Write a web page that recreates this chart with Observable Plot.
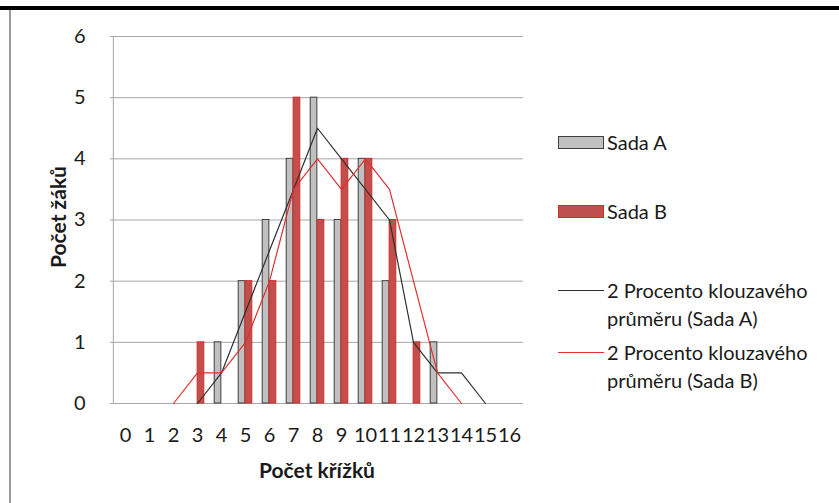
<!DOCTYPE html>
<html>
<head>
<meta charset="utf-8">
<script src="https://cdn.jsdelivr.net/npm/d3@7"></script>
<script src="https://cdn.jsdelivr.net/npm/@observablehq/plot@0.6"></script>
<style>
  html, body { margin: 0; padding: 0; background: #fff; }
  #wrap { position: relative; width: 839px; height: 503px; overflow: hidden; font-family: Lato, "Open Sans", sans-serif; color: #1a1a1a; }
  #topbar { position: absolute; left: 0; top: 6px; width: 839px; height: 4px; background: #000; }
  #leftbar { position: absolute; left: 9px; top: 10px; width: 2px; height: 493px; background: #9a9a9a; }
  .title { position: absolute; font-weight: bold; font-size: 21px; white-space: nowrap; }
  #ytitle { left: 57px; top: 217px; transform: translate(-50%, -50%) rotate(-90deg); }
  #xtitle { left: 317px; top: 469px; transform: translate(-50%, -50%); }
  .leg { position: absolute; font-size: 20px; white-space: nowrap; line-height: 28px; }
  .sw { position: absolute; }
</style>
</head>
<body>
<div id="wrap">
  <div id="chart"></div>
  <div id="topbar"></div>
  <div id="leftbar"></div>
  <div class="title" id="ytitle">Počet žáků</div>
  <div class="title" id="xtitle">Počet křížků</div>
  <div id="legend"></div>
</div>
<script>
// ---- data ----
const categories = [0,1,2,3,4,5,6,7,8,9,10,11,12,13,14,15,16];
const sadaA = [0,0,0,0,1,2,3,4,5,3,4,2,0,1,0,0,0];
const sadaB = [0,0,0,1,0,2,2,5,3,4,4,3,1,0,0,0,0];
// 2-period moving averages
const maACats = [3,4,5,6,7,8,9,10,11,12,13,14,15];
const maAVals = [0,0.5,1.5,2.5,3.5,4.5,4,3.5,3,1,0.5,0.5,0];
const maBCats = [2,3,4,5,6,7,8,9,10,11,12,13,14];
const maBVals = [0,0.5,0.5,1,2,3.5,4,3.5,4,3.5,2,0.5,0];
const yTicks = [0,1,2,3,4,5,6];
const legendLabels = ["Sada A", "Sada B", "2 Procento klouzavého průměru (Sada A)", "2 Procento klouzavého průměru (Sada B)"];

const barsA = categories.map((c, i) => ({c, v: sadaA[i]}));
const barsB = categories.map((c, i) => ({c, v: sadaB[i]}));
const lineA = maACats.map((c, i) => ({c, v: maAVals[i]}));
const lineB = maBCats.map((c, i) => ({c, v: maBVals[i]}));

const W = 839, H = 503, mL = 110, mR = 316, mT = 36, mB = 100;
const bw = (W - mL - mR) / categories.length;

const grayFill = "#c0c0c0", grayStroke = "#404040";
const redFill = "#c0504d", redStroke = "#d42a2a";
const gridColor = "#a6a6a6";

const chart = Plot.plot({
  width: W, height: H,
  marginLeft: mL, marginRight: mR, marginTop: mT, marginBottom: mB,
  style: {fontFamily: "Lato, 'Open Sans', sans-serif", fontSize: "20px", color: "#1a1a1a", background: "transparent"},
  x: {type: "band", domain: categories, padding: 0, tickSize: 0, tickPadding: 24, label: null},
  y: {domain: [0, 6], ticks: yTicks, tickFormat: d => String(d), tickSize: 0, tickPadding: 25, label: null},
  marks: [
    Plot.ruleY(yTicks, {stroke: gridColor, strokeWidth: 1}),
    Plot.ruleX([0], {x: () => categories[0], dx: -bw / 2, y1: 0, y2: 6, stroke: gridColor}),
    Plot.barY(barsA, {filter: d => d.v > 0, x: "c", y: "v", insetLeft: bw * 0.214, insetRight: bw * 0.5, fill: grayFill, stroke: grayStroke, strokeWidth: 1}),
    Plot.barY(barsB, {filter: d => d.v > 0, x: "c", y: "v", insetLeft: bw * 0.5, insetRight: bw * 0.214, fill: redFill, stroke: redStroke, strokeWidth: 1}),
    Plot.lineY(lineA, {x: "c", y: "v", stroke: "#303030", strokeWidth: 1.2}),
    Plot.lineY(lineB, {x: "c", y: "v", stroke: "#e03030", strokeWidth: 1.2})
  ]
});
document.getElementById("chart").appendChild(chart);

// ---- legend ----
const legend = document.getElementById("legend");
function addSwatch(style) {
  const d = document.createElement("div");
  d.className = "sw";
  Object.assign(d.style, style);
  legend.appendChild(d);
}
function addText(txt, x, y) {
  const d = document.createElement("div");
  d.className = "leg";
  d.textContent = txt;
  d.style.left = x + "px";
  d.style.top = (y - 14) + "px";
  legend.appendChild(d);
}
const sx = 558, sw = 44, tx = 607;
addSwatch({left: sx + "px", top: "136px", width: sw + "px", height: "11px", background: grayFill, border: "1px solid " + grayStroke});
addText(legendLabels[0], tx, 142);
addSwatch({left: sx + "px", top: "205px", width: sw + "px", height: "11px", background: redFill, border: "1px solid " + redStroke});
addText(legendLabels[1], tx, 211);
addSwatch({left: sx + "px", top: "290px", width: (sw + 2) + "px", height: "0px", borderTop: "1.3px solid #303030"});
addText("2 Procento klouzavého", tx, 290);
addText("průměru (Sada A)", tx, 318);
addSwatch({left: sx + "px", top: "352px", width: (sw + 2) + "px", height: "0px", borderTop: "1.3px solid #e03030"});
addText("2 Procento klouzavého", tx, 352);
addText("průměru (Sada B)", tx, 380);
</script>
</body>
</html>
